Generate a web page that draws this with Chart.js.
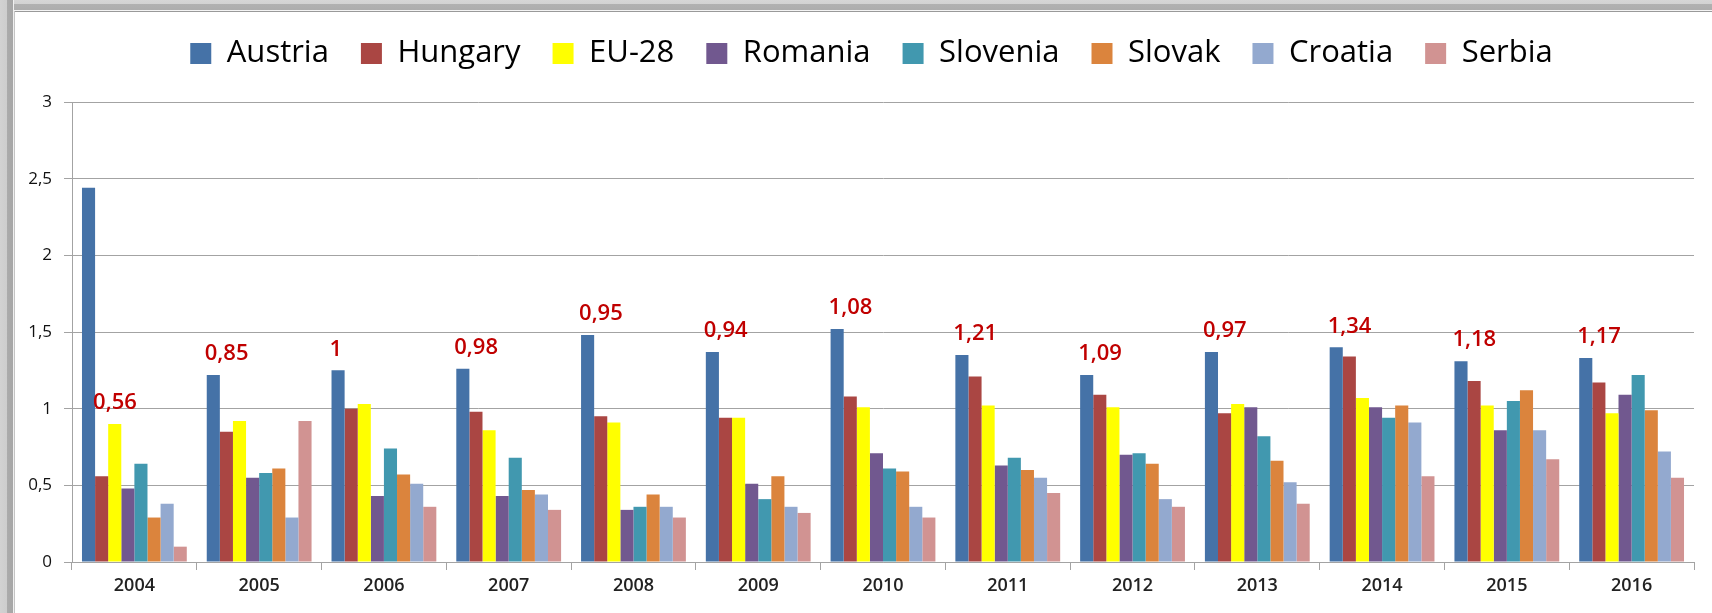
<!DOCTYPE html>
<html>
<head>
<meta charset="utf-8">
<script src="https://cdn.jsdelivr.net/npm/chart.js@4/dist/chart.umd.min.js"></script>
<style>
  html, body { margin: 0; padding: 0; background: #fff; overflow: hidden; }
  #wrap { position: relative; width: 1712px; height: 613px; overflow: hidden; background: #fff; }
  .band-top { position: absolute; left: 0; top: 0; width: 1712px; height: 11px;
    background: linear-gradient(to bottom, #d6d6d6 0, #d2d2d2 4px, #b1b1b1 4px, #adadad 10px, #f4f4f4 10px); }
  .band-left { position: absolute; left: 0; top: 0; width: 14px; height: 613px;
    background: linear-gradient(to right, #d2d2d2 0, #cdcdcd 7px, #ababab 7px, #a6a6a6 13px, #f0f0f0 13px); }
  .line-top { position: absolute; left: 14px; top: 11px; width: 1698px; height: 1px; background: #9a9a9a; }
  .line-left { position: absolute; left: 14px; top: 11px; width: 1px; height: 602px; background: #c4c4c4; }
  #chart { position: absolute; left: 0; top: 0; }
</style>
</head>
<body>
<div id="wrap">
  <div class="band-top"></div>
  <div class="band-left"></div>
  <div class="line-top"></div>
  <div class="line-left"></div>
  <canvas id="chart" width="1712" height="613"></canvas>
</div>
<script>
document.addEventListener("DOMContentLoaded", function() {
    // ---------- data ----------
    const years = ["2004", "2005", "2006", "2007", "2008", "2009", "2010", "2011", "2012", "2013", "2014", "2015", "2016"];

    const austria  = [2.44, 1.22, 1.25, 1.26, 1.48, 1.37, 1.52, 1.35, 1.22, 1.37, 1.40, 1.31, 1.33];
    const hungary  = [0.56, 0.85, 1.00, 0.98, 0.95, 0.94, 1.08, 1.21, 1.09, 0.97, 1.34, 1.18, 1.17];
    const eu28     = [0.90, 0.92, 1.03, 0.86, 0.91, 0.94, 1.01, 1.02, 1.01, 1.03, 1.07, 1.02, 0.97];
    const romania  = [0.48, 0.55, 0.43, 0.43, 0.34, 0.51, 0.71, 0.63, 0.70, 1.01, 1.01, 0.86, 1.09];
    const slovenia = [0.64, 0.58, 0.74, 0.68, 0.36, 0.41, 0.61, 0.68, 0.71, 0.82, 0.94, 1.05, 1.22];
    const slovak   = [0.29, 0.61, 0.57, 0.47, 0.44, 0.56, 0.59, 0.60, 0.64, 0.66, 1.02, 1.12, 0.99];
    const croatia  = [0.38, 0.29, 0.51, 0.44, 0.36, 0.36, 0.36, 0.55, 0.41, 0.52, 0.91, 0.86, 0.72];
    const serbia   = [0.10, 0.92, 0.36, 0.34, 0.29, 0.32, 0.29, 0.45, 0.36, 0.38, 0.56, 0.67, 0.55];

    const seriesNames = ["Austria", "Hungary", "EU-28", "Romania", "Slovenia", "Slovak", "Croatia", "Serbia"];
    const seriesValues = [austria, hungary, eu28, romania, slovenia, slovak, croatia, serbia];
    const yTickLabels = ["0", "0,5", "1", "1,5", "2", "2,5", "3"];

    // Excel 2007 palette
    const seriesColors = ["#4572A7", "#AA4643", "#FFFF00", "#71588F", "#4198AF", "#DB843D", "#93A9CF", "#D19392"];

    const gridColor = "#a3a3a3";
    const fontFamily = "'Open Sans', 'Noto Sans', sans-serif";

    // ---------- legend: fixed height, centred a bit right of the canvas middle ----------
    const legendFix = {
        id: "legendFix",
        beforeInit(chart) {
            const fit = chart.legend.fit;
            chart.legend.fit = function() {
                fit.bind(chart.legend)();
                this.height = 96;
            };
        },
        afterLayout(chart) {
            chart.legend.left = 49;
        }
    };

    // ---------- red labels (Hungary values) ----------
    const hungaryLabels = {
        id: "hungaryLabels",
        afterDatasetsDraw(chart) {
            const ctx = chart.ctx;
            const aBars = chart.getDatasetMeta(0).data;
            const hBars = chart.getDatasetMeta(1).data;
            ctx.save();
            ctx.font = "600 22px " + fontFamily;
            ctx.fillStyle = "#C00000";
            ctx.textAlign = "left";
            ctx.textBaseline = "middle";
            hungary.forEach((v, i) => {
                let bar = aBars[i];
                let top = bar.y;
                // outlier Austria bar: label sits over the Hungary bar, above the rest
                if (austria[i] > 2) {
                    bar = hBars[i];
                    top = Math.min(...seriesValues.slice(1).map((s, k) => chart.getDatasetMeta(k + 1).data[i].y));
                }
                ctx.fillText(String(v).replace(".", ","), bar.x - bar.width / 2 - 2, top - 21);
            });
            ctx.restore();
        }
    };

    new Chart(document.getElementById("chart"), {
        type: "bar",
        data: {
            labels: years,
            datasets: seriesNames.map((name, k) => ({
                label: name,
                data: seriesValues[k],
                backgroundColor: seriesColors[k],
                borderWidth: 0,
                categoryPercentage: 0.84,
                barPercentage: 1.0
            }))
        },
        options: {
            responsive: false,
            animation: false,
            devicePixelRatio: 1,
            layout: { padding: { left: 0, right: 18, top: 6, bottom: 0 } },
            plugins: {
                legend: {
                    position: "top",
                    labels: {
                        font: { family: fontFamily, size: 31 },
                        color: "#000",
                        boxWidth: 21,
                        boxHeight: 21,
                        padding: 32
                    }
                },
                tooltip: { enabled: false }
            },
            scales: {
                x: {
                    grid: { drawOnChartArea: false, drawTicks: true, tickLength: 8, color: gridColor, offset: true },
                    border: { color: gridColor },
                    ticks: { font: { family: fontFamily, size: 18, weight: "600" }, color: "#222", padding: 5 },
                    afterFit(scale) { scale.height = 51; }
                },
                y: {
                    min: 0,
                    max: 3,
                    grid: { color: gridColor, tickLength: 8 },
                    border: { color: gridColor },
                    ticks: {
                        stepSize: 0.5,
                        padding: 12,
                        color: "#111",
                        font: { family: fontFamily, size: 17 },
                        callback: (v, i) => yTickLabels[i]
                    },
                    afterFit(scale) { scale.width = 72; }
                }
            }
        },
        plugins: [legendFix, hungaryLabels]
    });
});
</script>
</body>
</html>
